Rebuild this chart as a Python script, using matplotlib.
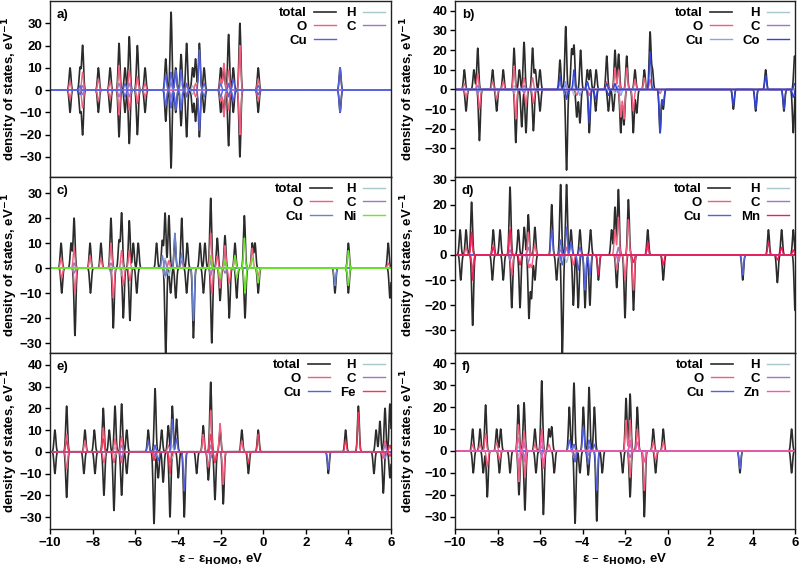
import numpy as np
import matplotlib.pyplot as plt
from matplotlib.lines import Line2D

plt.rcParams['font.family'] = ['Liberation Sans', 'DejaVu Sans']
plt.rcParams['font.weight'] = 'bold'

# peak lists: (energy in eV, height in eV^-1), spin up plotted positive, spin down negative
# a) symmetric, same levels for both spins
a_tot = [(-9.06, 10), (-8.59, 10), (-8.47, 20), (-7.73, 10), (-7.18, 10), (-6.76, 21), (-6.48, 10),
         (-6.28, 24), (-5.90, 20), (-5.54, 10), (-4.57, 14), (-4.32, 35), (-4.10, 10), (-3.85, 16),
         (-3.59, 21), (-3.31, 10), (-3.17, 14), (-2.99, 21), (-2.77, 10), (-1.99, 10), (-1.84, 10),
         (-1.62, 25), (-1.40, 10), (-1.09, 30), (-0.23, 10), (3.61, 10)]
a_O = [(-9.06, 4), (-8.47, 8), (-7.73, 5), (-7.18, 4), (-6.76, 11), (-6.28, 9), (-5.90, 6), (-5.54, 3),
       (-3.59, 3), (-3.17, 3), (-1.99, 5), (-1.84, 12), (-1.62, 9), (-1.09, 20), (-0.23, 5)]
a_Cu = [(-8.59, 2), (-6.48, 3), (-4.57, 7), (-4.32, 8), (-4.10, 9), (-3.85, 9), (-3.59, 3), (-2.99, 18),
        (-2.77, 3), (-1.99, 3), (-1.62, 3), (-1.40, 5), (-0.23, 2), (3.61, 10)]
a_H = [(-8.47, 2), (-6.28, 3), (-5.90, 4), (-4.32, 4), (-3.85, 3), (-3.31, 2)]
a_C = [(-8.47, 2), (-6.76, 3), (-6.28, 3), (-4.32, 3), (-3.59, 2), (-1.62, 2)]

# b) Co
b_tot_up = [(-9.56, 10), (-9.11, 10), (-8.93, 21), (-8.23, 10), (-7.73, 10), (-7.22, 21), (-6.97, 10),
            (-6.75, 24), (-6.35, 21), (-6.22, 10), (-6.00, 10), (-5.06, 15), (-4.79, 32), (-4.51, 20),
            (-4.40, 22), (-4.09, 20), (-3.77, 10), (-3.63, 10), (-3.36, 10), (-2.86, 17), (-2.47, 20),
            (-2.30, 18), (-1.92, 17), (-1.53, 10), (-1.09, 10), (-0.82, 29), (-0.71, 10), (4.62, 10),
            (5.98, 17)]
b_tot_dn = [(-9.48, 11), (-8.85, 26), (-8.04, 11), (-7.14, 27), (-6.86, 19), (-6.66, 22), (-6.31, 21),
            (-6.00, 11), (-4.75, 41), (-4.27, 14), (-4.12, 17), (-3.68, 22), (-3.38, 11), (-2.78, 11),
            (-2.55, 11), (-2.20, 22), (-2.05, 18), (-1.61, 22), (-1.45, 12), (-0.35, 22), (-0.20, 10),
            (3.10, 10), (4.15, 11), (5.48, 11), (5.92, 22)]
b_O_up = [(-9.56, 3), (-8.93, 8), (-8.23, 4), (-7.73, 4), (-7.22, 12), (-6.75, 6), (-6.35, 6), (-2.86, 4),
          (-2.47, 11), (-2.30, 10), (-1.92, 11), (-1.53, 5), (-1.09, 6), (-0.82, 5)]
b_O_dn = [(-9.48, 4), (-8.85, 10), (-8.04, 5), (-7.14, 15), (-6.66, 8), (-6.31, 7), (-4.27, 3), (-3.68, 3),
          (-2.20, 14), (-2.05, 15), (-1.61, 11), (-0.35, 2)]
b_Cu_up = [(-5.06, 3), (-4.79, 4), (-4.40, 5), (-3.77, 3)]
b_Cu_dn = [(-4.75, 4), (-4.12, 3), (-2.20, 3)]
b_Co_up = [(-5.06, 7), (-4.40, 10), (-3.77, 4), (-2.86, 3), (-2.47, 3), (-0.82, 19), (4.62, 7), (5.98, 3)]
b_Co_dn = [(-4.75, 5), (-3.68, 17), (-3.38, 5), (-2.78, 3), (-0.35, 22), (-0.20, 8), (3.10, 8), (4.15, 10),
           (5.48, 10), (5.92, 4)]
b_H = [(-8.93, 2), (-7.22, 2), (-4.79, 3), (-4.40, 3), (-2.47, 2)]
b_C = [(-8.93, 2), (-6.75, 2), (-4.79, 2), (-2.30, 2)]

# c) Ni
c_tot_up = [(-9.48, 10), (-9.01, 10), (-8.87, 20), (-8.12, 10), (-7.61, 10), (-7.14, 20), (-6.76, 11),
            (-6.64, 22), (-6.28, 19), (-6.09, 10), (-5.86, 10), (-5.00, 10), (-4.73, 11), (-4.60, 22),
            (-4.42, 21), (-4.14, 12), (-3.82, 20), (-3.56, 10), (-2.96, 10), (-2.73, 10), (-2.46, 28),
            (-2.15, 12), (-1.79, 13), (-1.32, 10), (-0.88, 21), (-0.51, 10), (-0.38, 10), (4.00, 10),
            (5.87, 10)]
c_tot_dn = [(-9.45, 10), (-8.83, 27), (-8.10, 10), (-7.03, 24), (-6.56, 20), (-6.25, 21), (-5.93, 10),
            (-4.57, 35), (-4.34, 10), (-4.10, 12), (-3.59, 10), (-3.27, 28), (-2.80, 10), (-2.41, 30),
            (-2.02, 13), (-1.59, 20), (-1.24, 12), (-0.85, 20), (-0.23, 10), (3.37, 10), (4.00, 10),
            (5.95, 12)]
c_O_up = [(-9.48, 4), (-8.87, 8), (-8.12, 5), (-7.61, 4), (-7.14, 10), (-6.64, 7), (-6.28, 7), (-4.42, 3),
          (-3.82, 3), (-2.46, 14), (-2.15, 5), (-1.79, 9), (-1.32, 4), (-0.51, 8), (5.87, 2)]
c_O_dn = [(-9.45, 4), (-8.83, 10), (-7.03, 12), (-6.56, 7), (-6.25, 5), (-2.41, 10), (-2.02, 8),
          (-1.59, 6), (-0.23, 3)]
c_Cu_up = [(-4.73, 5), (-4.14, 14), (-3.82, 6)]
c_Cu_dn = [(-4.57, 3), (-3.27, 21), (3.37, 7)]
c_Ni_up = [(-2.46, 5), (-1.79, 3), (-1.32, 5), (-0.88, 12), (-0.51, 4), (4.00, 7)]
c_Ni_dn = [(-2.02, 4), (-1.24, 4), (-0.85, 10), (-0.23, 6), (4.00, 7)]
c_H = [(-8.87, 2), (-6.64, 3), (-4.60, 4), (-4.42, 3), (-2.46, 2)]
c_C = [(-8.87, 2), (-7.14, 2), (-4.60, 3), (-2.46, 3), (-1.79, 2)]

# d) Mn
d_tot_up = [(-9.76, 10), (-9.48, 10), (-9.22, 21), (-8.20, 10), (-7.88, 10), (-7.41, 27), (-7.02, 10),
            (-6.74, 11), (-6.55, 16), (-6.24, 11), (-5.45, 20), (-5.03, 28), (-4.75, 28), (-4.54, 10),
            (-4.12, 10), (-3.62, 10), (-2.63, 10), (-2.47, 19), (-2.31, 26), (-1.84, 22), (-0.93, 10),
            (4.75, 10), (5.37, 10), (5.92, 10)]
d_tot_dn = [(-9.73, 10), (-9.17, 28), (-8.24, 10), (-7.73, 10), (-7.33, 21), (-6.94, 21), (-6.52, 25),
            (-6.40, 17), (-6.24, 10), (-5.22, 10), (-4.95, 40), (-4.43, 20), (-4.20, 21), (-3.88, 21),
            (-3.65, 20), (-3.25, 10), (-2.39, 13), (-2.00, 25), (-1.60, 22), (-0.20, 10), (3.54, 10),
            (5.17, 11), (6.00, 22)]
d_O_up = [(-9.48, 3), (-9.22, 6), (-8.20, 4), (-7.41, 11), (-6.55, 9), (-6.24, 4), (-4.75, 3), (-2.47, 10),
          (-2.31, 15), (-1.84, 14), (-0.93, 3)]
d_O_dn = [(-9.17, 6), (-7.33, 8), (-6.52, 5), (-6.40, 5), (-4.43, 4), (-2.39, 6), (-2.00, 10), (-1.60, 14)]
d_Cu_up = [(-5.45, 10), (-5.03, 6), (-4.75, 11), (-4.54, 5), (-4.12, 3)]
d_Cu_dn = [(-4.95, 4), (-4.20, 6), (-3.88, 14), (-3.65, 8), (3.54, 8)]
d_Mn_up = [(-9.22, 9), (-8.20, 3), (-7.41, 10), (-0.93, 5), (4.75, 5), (5.37, 3), (5.92, 2)]
d_Mn_dn = [(-9.17, 10), (-6.94, 4), (-3.25, 8), (-1.60, 3), (-0.20, 4), (5.17, 2)]
d_H = [(-7.41, 2), (-5.03, 3), (-4.75, 3), (-2.31, 2)]
d_C = [(-7.41, 2), (-6.55, 3), (-5.03, 2), (-2.31, 3)]

# e) Fe
e_tot_up = [(-9.77, 10), (-9.22, 21), (-8.36, 10), (-7.92, 10), (-7.50, 20), (-7.22, 10), (-6.95, 21),
            (-6.64, 22), (-6.40, 10), (-5.39, 10), (-5.07, 29), (-4.76, 10), (-4.45, 12), (-4.26, 21),
            (-4.06, 15), (-2.81, 12), (-2.46, 32), (-2.02, 10), (-1.00, 10), (-0.23, 10), (3.87, 10),
            (4.47, 21), (5.30, 10), (5.48, 14), (5.72, 20), (5.95, 22)]
e_tot_dn = [(-9.77, 10), (-9.22, 21), (-8.41, 10), (-7.89, 10), (-7.47, 20), (-7.00, 27), (-6.64, 20),
            (-6.40, 10), (-5.12, 33), (-4.92, 12), (-4.69, 14), (-4.37, 30), (-3.98, 12), (-3.70, 30),
            (-3.12, 10), (-2.57, 13), (-2.26, 22), (-1.87, 24), (-0.69, 10), (3.06, 10), (5.20, 10),
            (5.64, 19), (5.95, 12)]
e_O_up = [(-9.22, 8), (-8.36, 5), (-7.50, 11), (-6.95, 6), (-6.64, 7), (-4.45, 3), (-2.81, 8), (-2.46, 19),
          (-2.02, 13), (-1.00, 5), (5.72, 5)]
e_O_dn = [(-9.22, 8), (-7.47, 5), (-7.00, 5), (-6.64, 5), (-5.12, 3), (-4.37, 5), (-2.57, 7), (-2.26, 5),
          (-1.87, 15), (5.64, 3)]
e_Cu_up = [(-5.39, 5), (-5.07, 3), (-4.26, 15), (-4.06, 6)]
e_Cu_dn = [(-4.92, 4), (-3.70, 18), (3.06, 8)]
e_Fe_up = [(-9.22, 5), (-7.50, 6), (-2.46, 8), (-0.23, 8), (3.87, 5), (4.47, 18), (5.95, 3)]
e_Fe_dn = [(-5.12, 4), (-4.37, 10), (-2.26, 5), (-0.69, 5), (5.95, 2)]
e_H = [(-6.95, 2), (-5.07, 3), (-4.26, 3), (-2.46, 2)]
e_C = [(-6.64, 3), (-5.07, 2), (-2.46, 3), (5.72, 3)]

# f) Zn
f_tot_up = [(-9.17, 10), (-8.82, 10), (-8.56, 21), (-8.04, 10), (-7.85, 10), (-7.02, 21), (-6.75, 22),
            (-6.24, 10), (-5.92, 32), (-5.58, 10), (-5.45, 11), (-4.62, 20), (-4.40, 31), (-3.96, 20),
            (-3.69, 29), (-3.44, 20), (-1.95, 24), (-1.76, 26), (-1.42, 20), (-0.67, 10), (-0.20, 10),
            (5.84, 10)]
f_tot_dn = [(-9.14, 10), (-8.67, 10), (-8.48, 21), (-7.91, 10), (-7.41, 10), (-6.99, 20), (-6.71, 27),
            (-6.19, 10), (-5.84, 29), (-5.33, 10), (-4.35, 33), (-4.12, 10), (-3.73, 11), (-3.33, 32),
            (-3.07, 10), (-2.11, 10), (-1.76, 21), (-1.09, 30), (-0.56, 10), (3.41, 10), (5.84, 10)]
f_O_up = [(-9.17, 3), (-8.82, 3), (-8.56, 8), (-8.04, 4), (-7.02, 12), (-6.75, 9), (-6.24, 3), (-5.92, 10),
          (-5.58, 3), (-1.95, 14), (-1.76, 14), (-1.42, 10), (-0.67, 4), (-0.20, 4)]
f_O_dn = [(-8.48, 7), (-7.91, 4), (-6.99, 14), (-6.71, 12), (-5.84, 8), (-4.35, 3), (-1.76, 12),
          (-1.09, 18), (-0.56, 4)]
f_Cu_up = [(-4.62, 5), (-4.40, 3), (-3.96, 11), (-3.69, 5), (-3.44, 3)]
f_Cu_dn = [(-4.35, 5), (-3.73, 6), (-3.33, 18), (3.41, 8)]
f_Zn_up = [(-7.02, 6), (-6.75, 4), (-5.92, 6), (-1.76, 5), (-1.42, 4)]
f_Zn_dn = [(-6.99, 6), (-6.71, 5), (-5.84, 5), (-1.09, 5)]
f_H = [(-7.02, 2), (-5.92, 3), (-4.40, 3), (-3.69, 2)]
f_C = [(-6.75, 3), (-5.92, 2), (-1.76, 3), (-3.69, 2)]

ylims = {'a)': (-39, 40), 'b)': (-44.5, 45), 'c)': (-34, 36.5),
         'd)': (-39, 31), 'e)': (-35.5, 45.4), 'f)': (-35.6, 44.7)}
yticks_40 = [-30, -20, -10, 0, 10, 20, 30, 40]
yticks_30 = [-30, -20, -10, 0, 10, 20, 30]

SIGMA = 0.042
grid = np.arange(-10, 6.0001, 0.01)


def broaden(peaks):
    y = np.zeros_like(grid)
    for e, h in peaks:
        y += h * np.exp(-0.5 * ((grid - e) / SIGMA) ** 2)
    return y


col_tot = '#2b2b2b'
col_H = '#a9c6cc'
col_O = '#f0607e'
col_C = '#a274c8'
col_Cu = '#5562de'

panels = [
    ('a)', [('total', a_tot, a_tot, col_tot), ('H', a_H, a_H, col_H), ('O', a_O, a_O, col_O),
            ('C', a_C, a_C, col_C), ('Cu', a_Cu, a_Cu, col_Cu)]),
    ('b)', [('total', b_tot_up, b_tot_dn, col_tot), ('H', b_H, b_H, col_H), ('O', b_O_up, b_O_dn, col_O),
            ('C', b_C, b_C, col_C), ('Cu', b_Cu_up, b_Cu_dn, '#8f9fee'), ('Co', b_Co_up, b_Co_dn, '#3344d0')]),
    ('c)', [('total', c_tot_up, c_tot_dn, col_tot), ('H', c_H, c_H, col_H), ('O', c_O_up, c_O_dn, col_O),
            ('C', c_C, c_C, col_C), ('Cu', c_Cu_up, c_Cu_dn, '#6a84cc'), ('Ni', c_Ni_up, c_Ni_dn, '#6ae82a')]),
    ('d)', [('total', d_tot_up, d_tot_dn, col_tot), ('H', d_H, d_H, col_H), ('O', d_O_up, d_O_dn, col_O),
            ('C', d_C, d_C, col_C), ('Cu', d_Cu_up, d_Cu_dn, col_Cu), ('Mn', d_Mn_up, d_Mn_dn, '#ec2058')]),
    ('e)', [('total', e_tot_up, e_tot_dn, col_tot), ('H', e_H, e_H, col_H), ('O', e_O_up, e_O_dn, col_O),
            ('C', e_C, e_C, col_C), ('Cu', e_Cu_up, e_Cu_dn, col_Cu), ('Fe', e_Fe_up, e_Fe_dn, '#ee3a5a')]),
    ('f)', [('total', f_tot_up, f_tot_dn, col_tot), ('H', f_H, f_H, col_H), ('O', f_O_up, f_O_dn, col_O),
            ('C', f_C, f_C, col_C), ('Cu', f_Cu_up, f_Cu_dn, col_Cu), ('Zn', f_Zn_up, f_Zn_dn, '#f05aa6')]),
]

fig = plt.figure(figsize=(8.01, 5.69), dpi=100)
W, H = 801, 569
lefts = [50, 455]
widths = [341, 340]
tops = [1, 177, 353]
ph = 176
# right edge of the rotated y label, in axes fraction
ylabel_x = [-0.088, -0.11]

for i, (letter, series) in enumerate(panels):
    col, row = i % 2, i // 2
    ax = fig.add_axes([lefts[col] / W, (H - tops[row] - ph) / H, widths[col] / W, ph / H])

    handles = {}
    for name, up, dn, color in series:
        lw = 1.2 if name == 'total' else 1.0
        ax.plot(grid, broaden(up), color=color, lw=lw)
        ax.plot(grid, -broaden(dn), color=color, lw=lw)
        handles[name] = Line2D([], [], color=color, lw=lw)

    ax.set_xlim(-10, 6)
    ax.set_ylim(*ylims[letter])
    ax.set_xticks(np.arange(-10, 7, 2))
    ax.set_yticks(yticks_30 if ylims[letter][1] < 42 else yticks_40)
    ax.tick_params(direction='out', labelsize=9.5, width=1, length=3.5, pad=2)
    for lab in ax.get_xticklabels() + ax.get_yticklabels():
        lab.set_fontweight('bold')
    for sp in ax.spines.values():
        sp.set_linewidth(1.0)
        sp.set_color('#222222')
    if row < 2:
        ax.tick_params(axis='x', labelbottom=False, length=0)
    else:
        ax.set_xlabel('ε – ε$_{\\mathbf{HOMO}}$, eV', fontsize=9.5, fontweight='bold', labelpad=2)
    ax.set_ylabel('density of states, eV$^{\\mathbf{-1}}$', fontsize=9.5, fontweight='bold')
    ax.yaxis.set_label_coords(ylabel_x[col], 0.5)

    ax.text(0.02, 0.955, letter, transform=ax.transAxes, ha='left', va='top',
            fontsize=9.5, fontweight='bold')

    # legend columns: total/O/Cu on the left, H/C/metal on the right
    names = [s[0] for s in series]
    left_col = ['total', 'O', 'Cu']
    right_col = [n for n in names if n not in left_col]
    hl = [handles[n] for n in left_col + right_col]
    ax.legend(hl, left_col + right_col, ncol=2, loc='upper right', frameon=False, markerfirst=False,
              handlelength=1.7, handletextpad=0.5, columnspacing=0.8, labelspacing=0.12,
              borderaxespad=0.25, borderpad=0.2, prop={'weight': 'bold', 'size': 9.5})

fig.savefig('out.png', dpi=100)
